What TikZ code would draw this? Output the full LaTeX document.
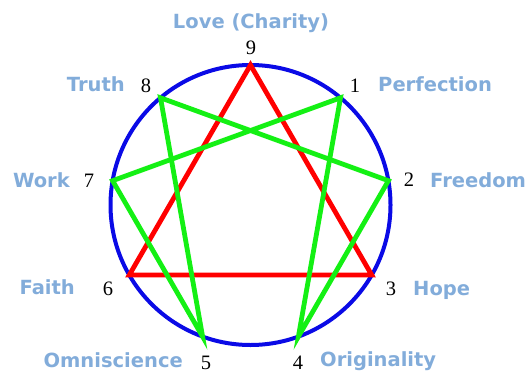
\documentclass[tikz,border=0pt]{standalone}
\usepackage{fontspec}
\newfontfamily\labfont{DejaVu Sans}
\newfontfamily\numfont{Liberation Serif}
\definecolor{labblue}{RGB}{130,172,218}
\definecolor{ringblue}{RGB}{10,10,230}
\definecolor{lgreen}{RGB}{20,240,20}
\begin{document}
\begin{tikzpicture}[x=1pt,y=-1pt,
  lab/.style={inner sep=0pt, text=labblue, font=\labfont\bfseries\fontsize{19.5}{20}\selectfont},
  num/.style={inner sep=0pt, font=\numfont\fontsize{20.5}{22}\selectfont},
  ring/.style={draw=ringblue, line width=4pt},
  tri/.style={draw=red, line width=4.8pt},
  hex/.style={draw=lgreen, line width=4.8pt}]
\useasboundingbox (0,0) rectangle (532,377);
\coordinate (c) at (250.5,205);
\coordinate (v1) at (340.5,97.8);
\coordinate (v2) at (388.4,180.7);
\coordinate (v3) at (371.7,275);
\coordinate (v4) at (298.4,336.6);
\coordinate (v5) at (202.6,336.6);
\coordinate (v6) at (129.3,275);
\coordinate (v7) at (112.6,180.7);
\coordinate (v8) at (160.5,97.8);
\coordinate (v9) at (250.5,65);
\draw[ring] (c) circle[radius=140];
\draw[tri] (v9) -- (v3) -- (v6) -- cycle;
\draw[hex] (v1) -- (v4) -- (v2) -- (v8) -- (v5) -- (v7) -- cycle;
% digits
\node[num, anchor=base] (n9) at (251,55) {9};
\node[num, anchor=base] (n8) at (146,93) {8};
\node[num, anchor=base] (n7) at (89,187) {7};
\node[num, anchor=base] (n1) at (355,93) {1};
\node[num, anchor=base] (n2) at (409,186) {2};
\node[num, anchor=base] (n6) at (108,295) {6};
\node[num, anchor=base] (n5) at (206,369) {5};
\node[num, anchor=base] (n3) at (391,295) {3};
\node[num, anchor=base] (n4) at (298,369) {4};
% labels
\node[lab, anchor=base] (l9) at (251,29) {Love (Charity)};
\node[lab, anchor=base east] (l8) at (125,92) {Truth};
\node[lab, anchor=base east] (l7) at (70,187) {Work};
\node[lab, anchor=base west] (l1) at (378,92) {Perfection};
\node[lab, anchor=base west] (l2) at (430,187) {Freedom};
\node[lab, anchor=base east] (l6) at (75,294) {Faith};
\node[lab, anchor=base east] (l5) at (183,367) {Omniscience};
\node[lab, anchor=base west] (l3) at (413,295) {Hope};
\node[lab, anchor=base west] (l4) at (320,366) {Originality};
\end{tikzpicture}
\end{document}
